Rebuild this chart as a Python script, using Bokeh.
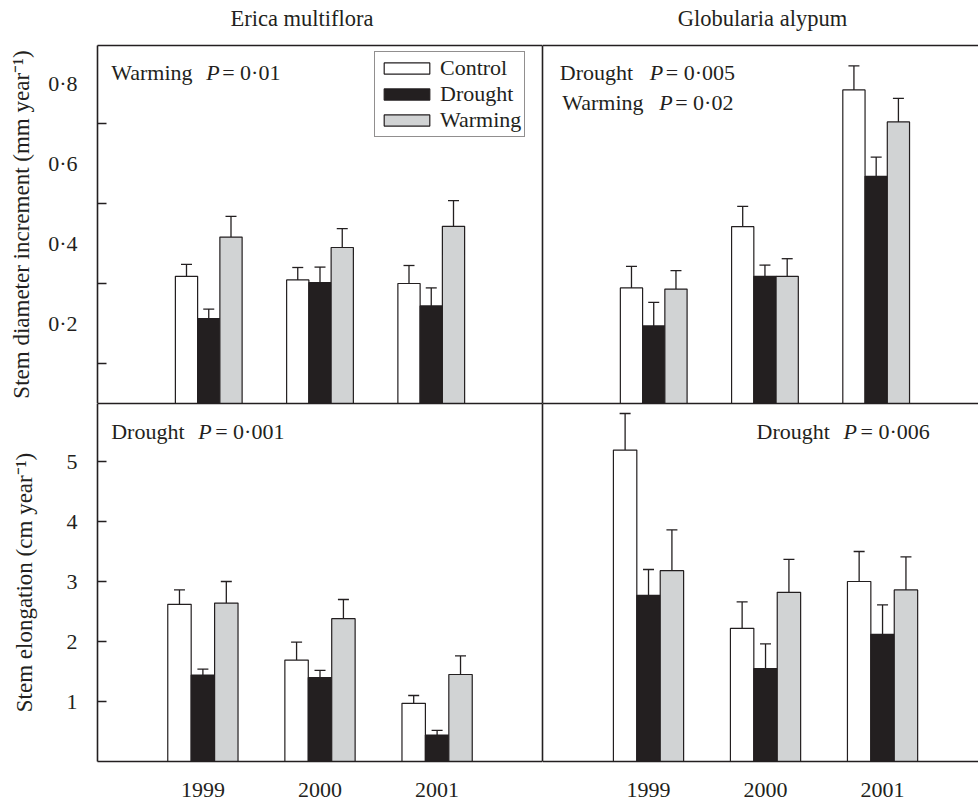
import json
from bokeh.plotting import figure
from bokeh.layouts import gridplot
from bokeh.models import (ColumnDataSource, Range1d, LinearAxis, FixedTicker,
                          CustomJSTickFormatter, Whisker, TeeHead, Label)
from bokeh.transform import dodge
from bokeh.embed import file_html
from bokeh.resources import INLINE

# ---------------- data ----------------
years = [1999, 2000, 2001]
treatments = ["Control", "Drought", "Warming"]
species = ["Erica multiflora", "Globularia alypum"]

# Erica multiflora - stem diameter increment (mm year-1)
erica_diam_control = [0.318, 0.309, 0.300]
erica_diam_control_se = [0.030, 0.031, 0.045]
erica_diam_drought = [0.212, 0.302, 0.244]
erica_diam_drought_se = [0.024, 0.039, 0.045]
erica_diam_warming = [0.416, 0.390, 0.443]
erica_diam_warming_se = [0.052, 0.047, 0.064]

# Globularia alypum - stem diameter increment (mm year-1)
glob_diam_control = [0.289, 0.442, 0.784]
glob_diam_control_se = [0.054, 0.051, 0.060]
glob_diam_drought = [0.194, 0.318, 0.568]
glob_diam_drought_se = [0.059, 0.028, 0.048]
glob_diam_warming = [0.286, 0.318, 0.704]
glob_diam_warming_se = [0.046, 0.044, 0.059]

# Erica multiflora - stem elongation (cm year-1)
erica_elong_control = [2.62, 1.69, 0.97]
erica_elong_control_se = [0.24, 0.30, 0.13]
erica_elong_drought = [1.44, 1.40, 0.44]
erica_elong_drought_se = [0.10, 0.12, 0.08]
erica_elong_warming = [2.64, 2.38, 1.45]
erica_elong_warming_se = [0.36, 0.32, 0.31]

# Globularia alypum - stem elongation (cm year-1)
glob_elong_control = [5.19, 2.22, 3.00]
glob_elong_control_se = [0.61, 0.44, 0.50]
glob_elong_drought = [2.77, 1.55, 2.12]
glob_elong_drought_se = [0.43, 0.41, 0.49]
glob_elong_warming = [3.18, 2.82, 2.86]
glob_elong_warming_se = [0.68, 0.55, 0.55]

diam_tick_labels = [0.2, 0.4, 0.6, 0.8]
diam_minor_ticks = [0.1, 0.3, 0.5, 0.7]
elong_tick_labels = [1, 2, 3, 4, 5]

y_label_top = "Stem diameter increment (mm year\u207b\u00b9)"
y_label_bottom = "Stem elongation (cm year\u207b\u00b9)"

# significance annotations: (effect, P value)
erica_diam_stats = [("Warming", "0\u00b701")]
glob_diam_stats = [("Drought", "0\u00b7005"), ("Warming", "0\u00b702")]
erica_elong_stats = [("Drought", "0\u00b7001")]
glob_elong_stats = [("Drought", "0\u00b7006")]

# ---------------- style ----------------
FONT = "Liberation Serif"
FS = "22px"
FS_AX = "23px"
FS_TITLE = "22.5px"
INK = "#231f20"
FILLS = ["#ffffff", "#231f20", "#d1d3d4"]
OFFSETS = [-0.2, 0.0, 0.2]
BAR_W = 0.2
BORDER_W = 1.6


def line_axis():
    return LinearAxis(ticker=FixedTicker(ticks=[]), major_tick_in=0, major_tick_out=0,
                      minor_tick_in=0, minor_tick_out=0, major_label_standoff=0,
                      major_label_text_font_size="0px", axis_line_color=INK,
                      axis_line_width=BORDER_W)


def title_axis(text, xpos):
    # top border line whose single tick label carries the species name
    return LinearAxis(ticker=FixedTicker(ticks=[xpos]),
                      formatter=CustomJSTickFormatter(code="return " + json.dumps(text) + ";"),
                      major_tick_in=0, major_tick_out=0, minor_tick_in=0, minor_tick_out=0,
                      major_label_standoff=15, major_label_text_font=FONT,
                      major_label_text_font_size=FS_TITLE, major_label_text_color=INK,
                      axis_line_color=INK, axis_line_width=BORDER_W)


def panel(width, height, xr, yr, series, borders, legend=False):
    p = figure(width=width, height=height, x_range=Range1d(*xr), y_range=Range1d(*yr),
               output_backend="svg", toolbar_location=None,
               x_axis_location=None, y_axis_location=None,
               min_border_left=borders[0], min_border_right=borders[1],
               min_border_top=borders[2], min_border_bottom=borders[3])
    p.outline_line_color = None
    p.background_fill_color = "white"
    p.border_fill_color = "white"
    p.grid.visible = False
    data = dict(year=years)
    for i, (m, s) in enumerate(series):
        data[f"m{i}"] = m
        data[f"h{i}"] = [a + b for a, b in zip(m, s)]
    src = ColumnDataSource(data)
    for i in range(3):
        kw = dict(legend_label=treatments[i]) if legend else {}
        p.vbar(x=dodge("year", OFFSETS[i], range=p.x_range), top=f"m{i}", bottom=0,
               width=BAR_W, source=src, fill_color=FILLS[i], line_color=INK,
               line_width=1.2, **kw)
        p.add_layout(Whisker(source=src, base=dodge("year", OFFSETS[i], range=p.x_range),
                             lower=f"m{i}", upper=f"h{i}", line_color=INK, line_width=1.3,
                             upper_head=TeeHead(size=11, line_color=INK, line_width=1.3),
                             lower_head=None))
    return p


def stats(p, x, y, effect, pval, off_p, off_eq):
    common = dict(x=x, y=y, text_font=FONT, text_font_size=FS, text_baseline="middle",
                  text_color=INK)
    p.add_layout(Label(text=effect, **common))
    p.add_layout(Label(text="P", x_offset=off_p, text_font_style="italic", **common))
    p.add_layout(Label(text="= " + pval, x_offset=off_eq, **common))


def year_axis():
    return LinearAxis(ticker=FixedTicker(ticks=years),
                      formatter=CustomJSTickFormatter(code="return tick.toFixed(0);"),
                      major_tick_in=0, major_tick_out=0, minor_tick_in=0, minor_tick_out=0,
                      major_label_standoff=21, major_label_text_font=FONT,
                      major_label_text_font_size=FS, major_label_text_color=INK,
                      axis_line_color=INK, axis_line_width=BORDER_W)


# ---------------- panels ----------------
top_y = (0, 0.895)
bot_y = (0, 5.967)

tl = panel(542, 403, (1998.0, 2002.0), top_y,
           [(erica_diam_control, erica_diam_control_se),
            (erica_diam_drought, erica_diam_drought_se),
            (erica_diam_warming, erica_diam_warming_se)],
           (97, 0, 45, 0), legend=True)
tr = panel(436, 403, (1998.0, 2001.92), top_y,
           [(glob_diam_control, glob_diam_control_se),
            (glob_diam_drought, glob_diam_drought_se),
            (glob_diam_warming, glob_diam_warming_se)],
           (0, 0, 45, 0))
bl = panel(542, 399, (1998.1, 2001.9), bot_y,
           [(erica_elong_control, erica_elong_control_se),
            (erica_elong_drought, erica_elong_drought_se),
            (erica_elong_warming, erica_elong_warming_se)],
           (97, 0, 0, 41))
br = panel(436, 399, (1998.094, 2001.82), bot_y,
           [(glob_elong_control, glob_elong_control_se),
            (glob_elong_drought, glob_elong_drought_se),
            (glob_elong_warming, glob_elong_warming_se)],
           (0, 0, 0, 41))

# y axes
ax_tl = LinearAxis(ticker=FixedTicker(ticks=diam_tick_labels, minor_ticks=diam_minor_ticks),
                   formatter=CustomJSTickFormatter(code="return tick.toFixed(1).replace('.', '\u00b7');"),
                   axis_label=y_label_top, major_tick_line_color=None, major_tick_in=0,
                   major_tick_out=0, minor_tick_in=9, minor_tick_out=0,
                   minor_tick_line_color=INK, minor_tick_line_width=1.3,
                   major_label_standoff=20, axis_label_standoff=11,
                   major_label_text_font=FONT, major_label_text_font_size=FS,
                   major_label_text_color=INK, axis_label_text_font=FONT,
                   axis_label_text_font_size=FS_AX, axis_label_text_font_style="normal",
                   axis_label_text_color=INK, axis_line_color=INK, axis_line_width=BORDER_W)
tl.add_layout(ax_tl, "left")
ax_bl = LinearAxis(ticker=FixedTicker(ticks=elong_tick_labels),
                   formatter=CustomJSTickFormatter(code="return tick.toFixed(0);"),
                   axis_label=y_label_bottom, major_tick_in=9, major_tick_out=0,
                   major_tick_line_color=INK, major_tick_line_width=1.3,
                   minor_tick_in=0, minor_tick_out=0,
                   major_label_standoff=20, axis_label_standoff=27,
                   major_label_text_font=FONT, major_label_text_font_size=FS,
                   major_label_text_color=INK, axis_label_text_font=FONT,
                   axis_label_text_font_size=FS_AX, axis_label_text_font_style="normal",
                   axis_label_text_color=INK, axis_line_color=INK, axis_line_width=BORDER_W)
bl.add_layout(ax_bl, "left")

# borders (+ species titles on the top borders)
tl.add_layout(title_axis(species[0], 1999.838), "above")
tl.add_layout(line_axis(), "right")
tl.add_layout(line_axis(), "below")
tr.add_layout(title_axis(species[1], 1999.978), "above")
tr.add_layout(line_axis(), "left")
tr.add_layout(line_axis(), "below")
bl.add_layout(line_axis(), "above")
bl.add_layout(line_axis(), "right")
bl.add_layout(year_axis(), "below")
br.add_layout(line_axis(), "above")
br.add_layout(line_axis(), "left")
br.add_layout(year_axis(), "below")

# legend
lg = tl.legend[0]
lg.location = (277, 266)
lg.margin = 0
lg.padding = 3
lg.spacing = 0
lg.glyph_width = 57
lg.glyph_height = 14
lg.label_standoff = 5
lg.label_text_font = FONT
lg.label_text_font_size = FS
lg.label_text_color = INK
lg.border_line_color = INK
lg.border_line_width = 1.3
lg.background_fill_alpha = 1.0

# significance texts
stats(tl, 1998.123, 0.8275, erica_diam_stats[0][0], erica_diam_stats[0][1], 95, 111)
stats(tr, 1998.156, 0.827, glob_diam_stats[0][0], glob_diam_stats[0][1], 90, 106)
stats(tr, 1998.177, 0.753, glob_diam_stats[1][0], glob_diam_stats[1][1], 97, 113)
stats(bl, 1998.217, 5.495, erica_elong_stats[0][0], erica_elong_stats[0][1], 87, 104)
stats(br, 1999.923, 5.495, glob_elong_stats[0][0], glob_elong_stats[0][1], 87, 104)

grid = gridplot([[tl, tr], [bl, br]], toolbar_location=None)

with open("out.html", "w", encoding="utf-8") as f:
    f.write(file_html(grid, INLINE))
